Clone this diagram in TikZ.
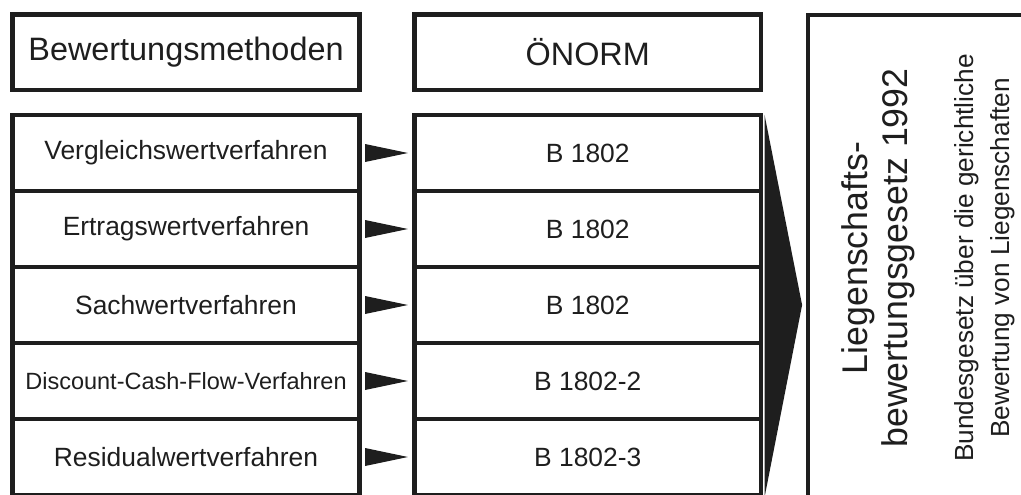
\documentclass[tikz,border=0pt]{standalone}
\usepackage{fontspec}
\setmainfont{Liberation Sans}
\usetikzlibrary{calc}
\definecolor{ink}{HTML}{1E1E1E}
\begin{document}
\begin{tikzpicture}[x=1pt,y=-1pt,
  cell/.style={draw=ink, line width=4.2pt, rectangle, inner sep=0pt, text=ink,
               font=\fontsize{26.4}{30}\selectfont},
  leftcell/.style={cell, minimum width=347pt, minimum height=76pt},
  midcell/.style={cell, minimum width=346.5pt, minimum height=76pt},
  head/.style={cell, minimum height=75.5pt, font=\fontsize{32.4}{36}\selectfont},
  pointer/.style={fill=ink},
  vtext/.style={rotate=90, align=center, text=ink, inner sep=0pt}
]
\useasboundingbox (0,0) rectangle (1021,495);
\begin{scope}
\clip (0,0) rectangle (1021,495);

% column headers
\node[head, minimum width=347pt]   (h1) at (186,52.25)    {Bewertungsmethoden};
\node[head, minimum width=346.5pt] (h2) at (587.75,52.25) {ÖNORM};

% valuation methods
\node[leftcell] (l1) at (186,153) {Vergleichswertverfahren};
\node[leftcell] (l2) at (186,229) {Ertragswertverfahren};
\node[leftcell] (l3) at (186,305) {Sachwertverfahren};
\node[leftcell, font=\fontsize{23.5}{28}\selectfont] (l4) at (186,381) {Discount-Cash-Flow-Verfahren};
\node[leftcell] (l5) at (186,457) {Residualwertverfahren};

% standards
\node[midcell] (m1) at (587.75,153) {B 1802};
\node[midcell] (m2) at (587.75,229) {B 1802};
\node[midcell] (m3) at (587.75,305) {B 1802};
\node[midcell] (m4) at (587.75,381) {B 1802-2};
\node[midcell] (m5) at (587.75,457) {B 1802-3};

% small pointers from method to standard
\foreach \i in {1,...,5}{
  \fill[pointer] ($(l\i.east)+(3.5,-9)$) -- ($(m\i.west)+(-4.5,0)$)
                 -- ($(l\i.east)+(3.5,9)$) -- cycle;
}

% law box
\node[draw=ink, line width=4.2pt, outer sep=0pt, inner sep=0pt,
      minimum width=300pt, minimum height=600pt, anchor=north west] (law) at (808,15) {};

% large pointer from the standards to the law
\fill[pointer] ($(m1.north east)+(1.5,2.1)$)
  -- ($(m1.north east)!0.5!(m5.south east)+(39,0)$)
  -- ($(m5.south east)+(1.5,0)$) -- cycle;

\node[vtext, font=\fontsize{35.7}{40}\selectfont] (title) at (878,258)
  {Liegenschafts-\\bewertungsgesetz 1992};
\node[vtext, font=\fontsize{26.2}{36}\selectfont] (sub) at (985,258)
  {Bundesgesetz über die gerichtliche\\Bewertung von Liegenschaften};
\end{scope}
\end{tikzpicture}
\end{document}
